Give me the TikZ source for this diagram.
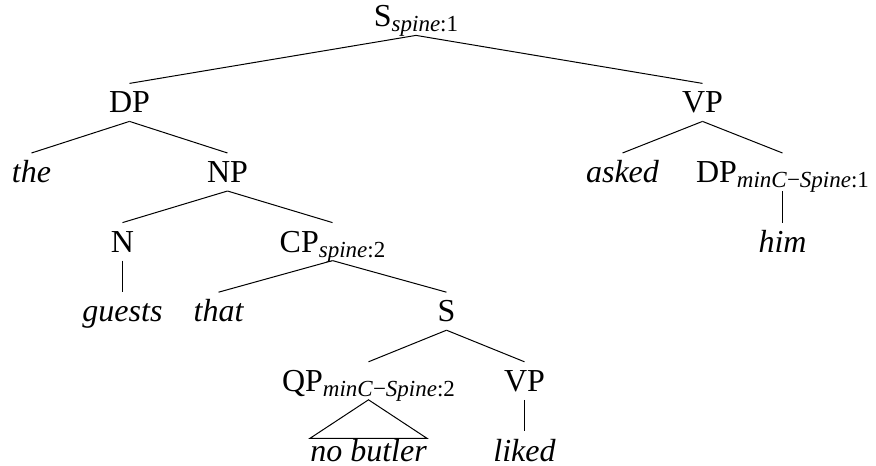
\documentclass[tikz,border=0pt]{standalone}
\usepackage{fontspec}
\setmainfont{Liberation Serif}
\usepackage{tikz}
\tikzset{
  st/.style={every node/.style={font=\fontsize{16}{19}\selectfont, inner xsep=0pt, inner ysep=4pt, text height=10.6pt, text depth=0pt},
             edge from parent/.style={draw, line width=0.5pt},
             edge from parent path={(\tikzparentnode.south) -- (\tikzchildnode.north)}},
  wd/.style={font=\fontsize{16}{19}\selectfont\itshape},
  roof/.style={edge from parent path={(\tikzparentnode.south) -- ([yshift=-3.5pt]\tikzchildnode.north west) -- ([yshift=-3.5pt]\tikzchildnode.north east) -- cycle}}
}
\newcommand{\lsub}[1]{\raisebox{-2.5pt}{\fontsize{11.5}{13}\selectfont #1}}

\begin{document}
\begin{tikzpicture}[st, level 1/.style={sibling distance=286.5pt, level distance=43pt}, level 2/.style={sibling distance=98pt, level distance=34.8pt},
  level 3/.style={sibling distance=105pt}, level 4/.style={sibling distance=114pt}, level 5/.style={sibling distance=78pt}]
\useasboundingbox (-208pt,8.2pt) rectangle (230pt,-224.3pt);
\node (root) {S\lsub{\textit{spine}:1}}
  child {node (dp) {DP}
    child {node[wd] (the) {the}}
    child {node (np) {NP}
      child {node (n) {N} child {node[wd] (guests) {guests}}}
      child {node (cp) {CP\lsub{\textit{spine}:2}}
        child {node[wd] (that) {that}}
        child {node (s) {S}
          child {node (qp) {QP\lsub{\textit{minC}−\textit{Spine}:2}} child[roof] {node[wd] (nobutler) {no butler}}}
          child {node (vpb) {VP} child {node[wd] (liked) {liked}}}}}}}
  child {node (vp) {VP}
    child[sibling distance=80pt] {node[wd] (asked) {asked}}
    child[sibling distance=80pt] {node (dpm) {DP\lsub{\textit{minC}−\textit{Spine}:1}} child {node[wd] (him) {him}}}};
\end{tikzpicture}
\end{document}
